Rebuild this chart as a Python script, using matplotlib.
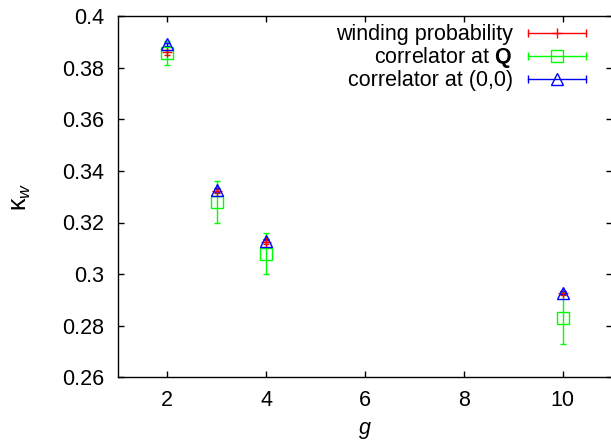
import matplotlib
matplotlib.use('Agg')
import matplotlib.pyplot as plt
from matplotlib.ticker import FuncFormatter
from matplotlib.lines import Line2D
from matplotlib.legend_handler import HandlerLine2D

plt.rcParams['font.family'] = ['Liberation Sans', 'DejaVu Sans']
plt.rcParams['font.size'] = 15.5
plt.rcParams['mathtext.fontset'] = 'custom'
plt.rcParams['mathtext.rm'] = 'Liberation Sans'
plt.rcParams['mathtext.it'] = 'Liberation Sans:italic'
plt.rcParams['mathtext.bf'] = 'Liberation Sans:bold'

g = [2, 3, 4, 10]
wind = [0.3859, 0.3323, 0.3126, 0.2926]
wind_err = [0.0010, 0.0008, 0.0008, 0.0008]
corrQ = [0.3857, 0.3279, 0.3079, 0.2829]
corrQ_err = [0.0045, 0.0080, 0.0080, 0.0100]
corr0 = [0.3890, 0.3326, 0.3129, 0.2928]
corr0_err = [0.0006, 0.0006, 0.0006, 0.0006]
labels = ['winding probability', r'correlator at $\mathbf{Q}$', 'correlator at (0,0)']

red, green, blue = '#ff0000', '#00ff00', '#0000ff'

fig = plt.figure(figsize=(6.11, 4.45), dpi=100)
ax = fig.add_axes([0.193, 0.152, 0.809, 0.812])

ax.errorbar(g, wind, yerr=wind_err, color=red, marker='+', ms=7, mew=1,
            ls='none', elinewidth=1, capsize=2.2)
ax.errorbar(g, corrQ, yerr=corrQ_err, color=green, marker='s', ms=8.6, mew=1,
            mfc='none', ls='none', elinewidth=1, capsize=2.2)
ax.errorbar(g, corr0, yerr=corr0_err, color=blue, marker='^', ms=9, mew=1,
            mfc='none', ls='none', elinewidth=1, capsize=2.2)

ax.set_xlim(1, 11)
ax.set_ylim(0.26, 0.4)
ax.set_xticks([2, 4, 6, 8, 10])
ax.set_yticks([0.26, 0.28, 0.3, 0.32, 0.34, 0.36, 0.38, 0.4])
ax.yaxis.set_major_formatter(FuncFormatter(lambda v, p: ('%g' % round(v, 3))))
ax.tick_params(direction='in', top=True, right=True, length=4.5, width=1)
ax.tick_params(axis='y', pad=10)
ax.tick_params(axis='x', pad=9)
for s in ax.spines.values():
    s.set_linewidth(1)

ax.set_xlabel('g', style='italic', labelpad=5)
ax.set_ylabel(r'$\mathrm{κ}_w$', fontsize=18, labelpad=21)

# legend: gnuplot style sample, horizontal bar with end caps and marker in the middle
handles = []
hmap = {}
for col, mk, ms in [(red, '+', 7), (green, 's', 8.6), (blue, '^', 9)]:
    bar = Line2D([], [], color=col, lw=1, marker='|', ms=6, mew=1)
    sym = Line2D([], [], color=col, ls='none', marker=mk, ms=ms, mfc='none', mew=1)
    hmap[bar] = HandlerLine2D(numpoints=2, marker_pad=0)
    hmap[sym] = HandlerLine2D(numpoints=1)
    handles.append((bar, sym))

ax.legend(handles, labels, handler_map=hmap, loc='upper right',
          bbox_to_anchor=(0.947, 0.977), frameon=False, markerfirst=False,
          handlelength=2.7, handletextpad=0.7, labelspacing=0.0,
          borderpad=0, borderaxespad=0)

fig.savefig('out.png', dpi=100)
